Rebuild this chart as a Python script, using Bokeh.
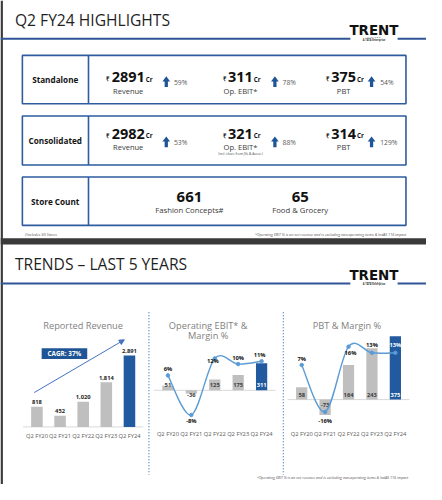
import numpy as np
from bokeh.plotting import figure
from bokeh.models import Range1d, Arrow, NormalHead, ColumnDataSource
from bokeh.core.properties import value
from bokeh.embed import file_html
from bokeh.resources import INLINE

# ---------------- data ----------------
periods = ["Q2 FY20", "Q2 FY21", "Q2 FY22", "Q2 FY23", "Q2 FY24"]
revenue = [818, 452, 1020, 1814, 2891]
revenue_labels = ["818", "452", "1,020", "1,814", "2,891"]
ebit = [51, -36, 125, 175, 311]
ebit_labels = ["51", "-36", "125", "175", "311"]
ebit_margin = [6, -8, 12, 10, 11]
pbt = [58, -73, 164, 243, 375]
pbt_labels = ["58", "-73", "164", "243", "375"]
pbt_margin = [7, -16, 16, 13, 13]
cagr_text = "CAGR: 37%"

row_names = ["Standalone", "Consolidated", "Store Count"]
metrics = ["Revenue", "Op. EBIT*", "PBT"]
standalone_values = ["2891", "311", "375"]
standalone_growth = ["59%", "78%", "54%"]
consolidated_values = ["2982", "321", "314"]
consolidated_growth = ["53%", "88%", "129%"]
store_counts = ["661", "65"]
store_labels = ["Fashion Concepts#", "Food & Grocery"]

# ---------------- style ----------------
FONT = "Open Sans"
LOGO_FONT = "DejaVu Sans Condensed"
DARK = "#262626"
GRAY_BAR = "#bfbfbf"
BLUE_BAR = "#215a9e"
FRAME_BLUE = "#2e5c9e"
LINE_BLUE = "#5b9bd5"
TITLE_GRAY = "#7f7f7f"

REF_W, REF_H = 442, 500
W, H = 426, 484
SX = W / REF_W

p = figure(width=W, height=H, x_range=Range1d(0, REF_W), y_range=Range1d(REF_H, 0),
           output_backend="svg", toolbar_location=None,
           x_axis_location=None, y_axis_location=None, min_border=0,
           outline_line_color=None, background_fill_color="white",
           border_fill_color="white")
p.grid.visible = False


def fs(px):
    return f"{px * SX:.2f}px"


def txt(x, y, s, size, color=DARK, align="left", style="normal", baseline="middle", font=FONT):
    p.text(x=[x], y=[y], text=[s], text_font=value(font), text_font_size=fs(size),
           text_color=color, text_align=align, text_baseline=baseline,
           text_font_style=style)


# ---------------- slide frames ----------------
p.quad(left=[0], right=[2.5], top=[0], bottom=[REF_H], fill_color="#3c3c3c", line_color=None)
p.quad(left=[0], right=[REF_W], top=[245.5], bottom=[252], fill_color="#3a3a3a", line_color=None)


def header(title, y_title, y_line):
    txt(15, y_title, title, 16.2, color="#1f1f1f")
    p.segment(x0=[0, 412], x1=[363, REF_W], y0=[y_line, y_line], y1=[y_line, y_line],
              line_color="#2f5597", line_width=2)
    cx = 387.5
    txt(cx, y_line - 8.8, "TRENT", 15.5, color="#111111", align="center", style="bold",
        font=LOGO_FONT)
    txt(cx, y_line - 2.2, "L I M I T E D", 2.6, color="#333333", align="center")
    txt(cx, y_line + 0.6, "A TATA Enterprise", 2.6, color="#333333", align="center", style="bold")


header("Q2 FY24 HIGHLIGHTS", 20.5, 39.5)
header("TRENDS \u2013 LAST 5 YEARS", 272.5, 292.3)

# ---------------- highlight boxes ----------------
boxes = [(56.7, 106.7), (119.3, 170.0), (182.3, 232.3)]
for (t, b), name in zip(boxes, row_names):
    p.quad(left=[22.7], right=[420.7], top=[t], bottom=[b], fill_color=None,
           line_color=FRAME_BLUE, line_width=1.6)
    p.segment(x0=[91.3], x1=[91.3], y0=[t], y1=[b], line_color=FRAME_BLUE, line_width=1.6)
    txt(56.8, (t + b) / 2, name, 8.5, color="#141414", align="center", style="bold")

value_cx = [132.5, 249.0, 356.0]
arrow_cx = [172.0, 284.7, 385.0]
growth_x = [180.0, 292.7, 394.0]
NUM_SIZE = 15.0


def up_arrow(cx, cy, h=11.0, w=8.0, sw=3.4):
    top = cy - h / 2
    bot = cy + h / 2
    mid = top + h * 0.48
    xs = [cx, cx + w / 2, cx + sw / 2, cx + sw / 2, cx - sw / 2, cx - sw / 2, cx - w / 2]
    ys = [top, mid, mid, bot, bot, mid, mid]
    return xs, ys


def metric_row(values, growth, y_num, y_lab, y_arrow):
    axs, ays = [], []
    for cx, v, m, ax, gx, g in zip(value_cx, values, metrics, arrow_cx, growth_x, growth):
        est = len(v) * 0.60 * NUM_SIZE
        txt(cx, y_num, v, NUM_SIZE, color="#111111", align="center", style="bold")
        txt(cx - est / 2 - 1.0, y_num + 1.5, "\u20b9", 6.5, color="#111111", align="right", style="bold")
        txt(cx + est / 2 + 0.3, y_num + 1.8, "Cr", 6.5, color="#111111", align="left", style="bold")
        txt(cx, y_lab, m, 7.8, color="#3a3a3a", align="center")
        xs, ys = up_arrow(ax, y_arrow)
        axs.append(xs)
        ays.append(ys)
        txt(gx, y_arrow + 1.0, g, 7.0, color="#595959", align="left")
    p.patches(xs=axs, ys=ays, fill_color="#1f5596", line_color=None)


metric_row(standalone_values, standalone_growth, 79.5, 93.3, 83.8)
metric_row(consolidated_values, consolidated_growth, 138.0, 151.0, 146.0)
txt(value_cx[1], 157.7, "(incl. share from JVs & Assoc.)", 3.4, color="#444444", align="center")

for cx, c, lab in zip([196.0, 311.0], store_counts, store_labels):
    txt(cx, 203.0, c, 15.5, color="#111111", align="center", style="bold")
    txt(cx, 216.7, lab, 8.0, color="#3a3a3a", align="center")

txt(25, 241.8, "#Includes SIS Stores", 3.8, color="#555555", style="italic")
FOOT = "*Operating EBIT % is on net revenue and is excluding non-operating items & IndAS 116 impact"
txt(421, 241.8, FOOT, 3.8, color="#555555", align="right", style="italic")
txt(423, 493.0, FOOT, 3.8, color="#555555", align="right", style="italic")

# ---------------- chart ranges (reference-pixel geometry) ----------------


def chart_ranges(x0, dx, base, k):
    xr = Range1d((0 - x0) / dx, (REF_W - x0) / dx)
    yr = Range1d((base - REF_H) / k, base / k)
    return xr, yr


rev_x, rev_y = chart_ranges(37.8, 24.0, 440.5, 0.0255)
ebit_x, ebit_y = chart_ranges(173.7, 24.3, 402.7, 0.09)
_, ebm_y = chart_ranges(173.7, 24.3, 404.8, 2.92)
pbt_x, pbt_y = chart_ranges(312.5, 24.3, 412.3, 0.218)
_, pbm_y = chart_ranges(312.5, 24.3, 391.3, 2.106)
PBT_AXIS_MAX = 300

p.extra_x_ranges = {"rev": rev_x, "ebit": ebit_x, "pbt": pbt_x}
p.extra_y_ranges = {"rev": rev_y, "ebit": ebit_y, "ebm": ebm_y, "pbt": pbt_y, "pbm": pbm_y}

idx = np.arange(len(periods))
n = len(periods)
bar_colors = [GRAY_BAR] * (n - 1) + [BLUE_BAR]
inbar_colors = ["#404040"] * (n - 1) + ["white"]

# separators
p.segment(x0=[154.0, 293.5], x1=[154.0, 293.5], y0=[322, 322], y1=[490, 490],
          line_color="#4a7ebb", line_width=1.3, line_dash="1 2")

# titles
txt(85.7, 335.7, "Reported Revenue", 9.6, color=TITLE_GRAY, align="center")
txt(215.5, 335.7, "Operating EBIT* &", 9.6, color=TITLE_GRAY, align="center")
txt(215.5, 346.5, "Margin %", 9.6, color=TITLE_GRAY, align="center")
txt(359.5, 335.7, "PBT & Margin %", 9.6, color=TITLE_GRAY, align="center")


def baseline(rng):
    p.segment(x0=[-0.6], x1=[n - 0.4], y0=[0], y1=[0], line_color="#d9d9d9", line_width=1,
              x_range_name=rng, y_range_name=rng)


def cat_labels(rng, y):
    p.text(x=idx, y=[y] * n, text=periods, x_range_name=rng, text_font=value(FONT),
           text_font_size=fs(6.0), text_color="#595959", text_align="center",
           text_baseline="middle")


def smooth_line(vals, xr, yr):
    xs = idx.astype(float)
    ys = np.array(vals, dtype=float)
    xp = np.concatenate([[xs[0]], xs, [xs[-1]]])
    yp = np.concatenate([[ys[0]], ys, [ys[-1]]])
    m = len(xs)
    cx0 = xs[:-1] + (xs[1:] - xp[0:m - 1]) / 6
    cy0 = ys[:-1] + (ys[1:] - yp[0:m - 1]) / 6
    cx1 = xs[1:] - (xp[3:m + 2] - xs[:-1]) / 6
    cy1 = ys[1:] - (yp[3:m + 2] - ys[:-1]) / 6
    p.bezier(x0=xs[:-1], y0=ys[:-1], x1=xs[1:], y1=ys[1:], cx0=cx0, cy0=cy0, cx1=cx1, cy1=cy1,
             line_color=LINE_BLUE, line_width=1.4, x_range_name=xr, y_range_name=yr)
    p.scatter(x=xs, y=ys, size=3.5, fill_color=LINE_BLUE, line_color=LINE_BLUE,
              x_range_name=xr, y_range_name=yr)


def label_set(x, y, text, dx, dy, colors, xr, yr, size=6.0, baseline="middle"):
    src = ColumnDataSource(dict(x=x, y=y, text=text, dx=[d * SX for d in dx],
                                dy=[d * SX for d in dy], c=colors))
    p.text(x="x", y="y", text="text", x_offset="dx", y_offset="dy", text_color="c", source=src,
           text_font=value(FONT), text_font_size=fs(size), text_font_style="bold",
           text_align="center", text_baseline=baseline, x_range_name=xr, y_range_name=yr)


# ----- chart 1: reported revenue -----
baseline("rev")
p.vbar(x=idx, top=revenue, bottom=0, width=0.5, fill_color=bar_colors, line_color=None,
       x_range_name="rev", y_range_name="rev")
label_set(idx, revenue, revenue_labels, [0] * n, [-2.5] * n, ["#262626"] * n, "rev", "rev",
          size=6.0, baseline="bottom")
cat_labels("rev", 450.0)
p.add_layout(Arrow(end=NormalHead(size=5, fill_color="#4472c4", line_color="#4472c4"),
                   x_start=35, y_start=405, x_end=128.5, y_end=350.5,
                   line_color="#4472c4", line_width=1))
p.quad(left=[42.7], right=[90.0], top=[359.3], bottom=[370.3], fill_color="#1f5596",
       line_color=None)
txt(66.3, 364.9, cagr_text, 6.6, color="white", align="center", style="bold")

# ----- chart 2: operating EBIT & margin -----
baseline("ebit")
p.vbar(x=idx, top=ebit, bottom=0, width=0.48, fill_color=bar_colors, line_color=None,
       x_range_name="ebit", y_range_name="ebit")
label_set(idx, [0] * n, ebit_labels, [0] * n, [-6 if v >= 0 else 4.5 for v in ebit],
          inbar_colors, "ebit", "ebit")
smooth_line(ebit_margin, "ebit", "ebm")
label_set(idx, ebit_margin, [f"{v}%" for v in ebit_margin], [0, 0, -2, 0, -2],
          [-6.5, 6.5, 2.5, -6.5, -7], ["#111111"] * n, "ebit", "ebm")
cat_labels("ebit", 447.7)

# ----- chart 3: PBT & margin -----
baseline("pbt")
p.vbar(x=idx, top=np.minimum(pbt, PBT_AXIS_MAX), bottom=0, width=0.48, fill_color=bar_colors,
       line_color=None, x_range_name="pbt", y_range_name="pbt")
label_set(idx, [0] * n, pbt_labels, [0] * n, [-4.6 if v >= 0 else 5.4 for v in pbt],
          inbar_colors, "pbt", "pbt")
smooth_line(pbt_margin, "pbt", "pbm")
label_set(idx, pbt_margin, [f"{v}%" for v in pbt_margin], [0, 0, 2, 0, 0],
          [-6, 9, 6.5, -8, -8], ["#111111"] * (n - 1) + ["white"], "pbt", "pbm")
cat_labels("pbt", 447.7)

open("out.html", "w").write(file_html(p, INLINE))
